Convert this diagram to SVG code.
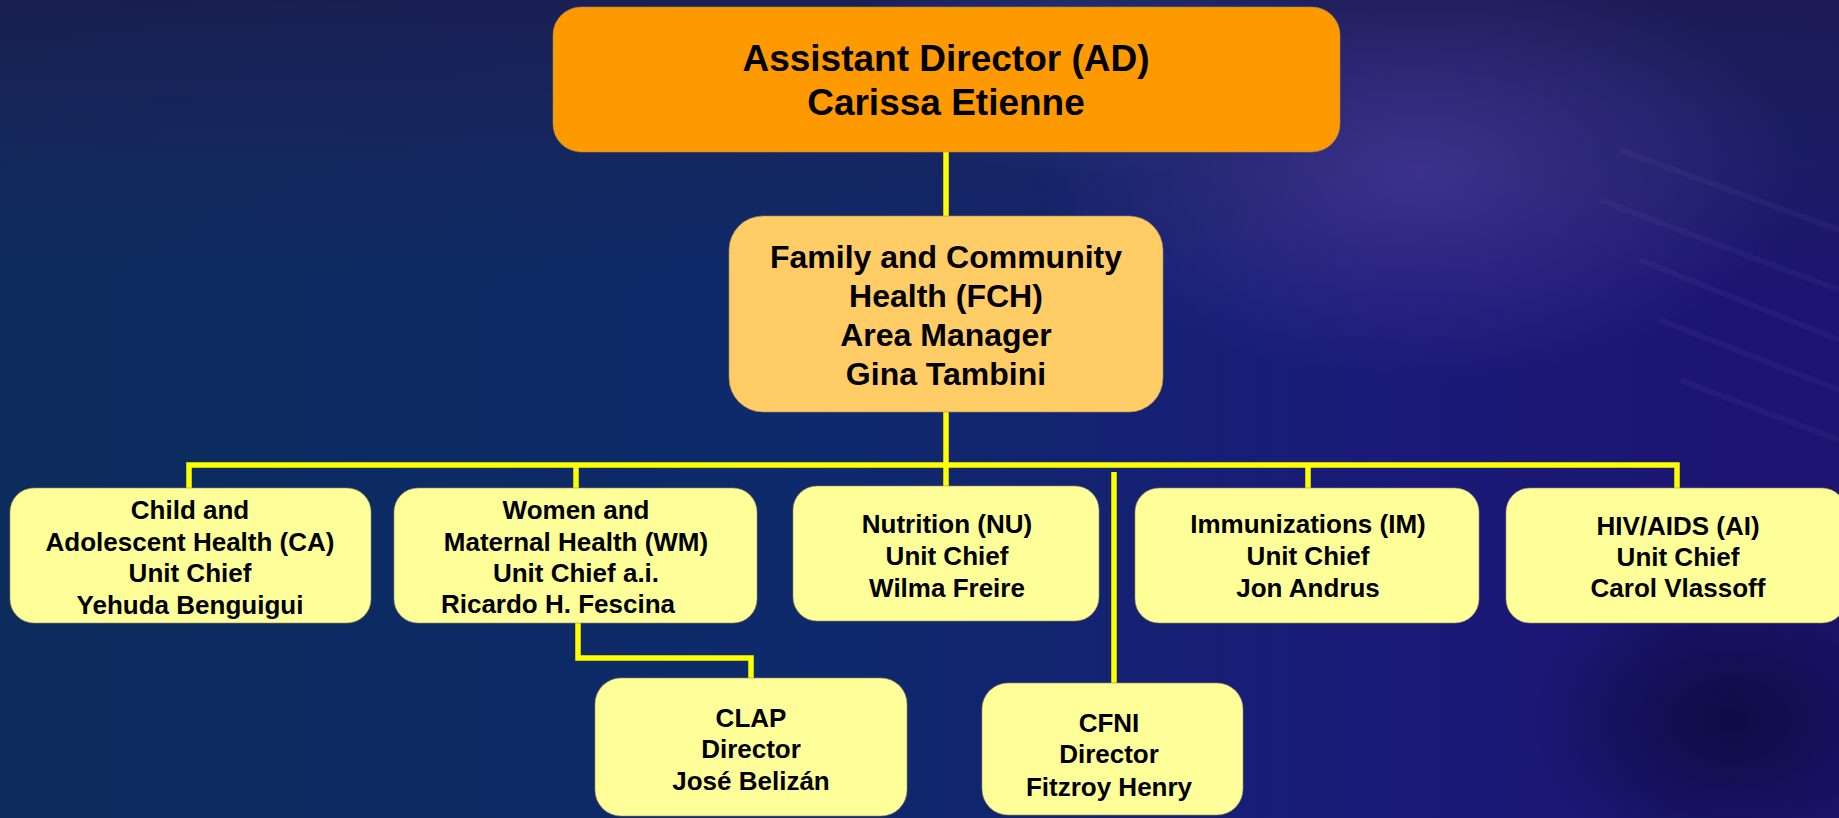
<svg xmlns="http://www.w3.org/2000/svg" width="1839" height="818" viewBox="0 0 1839 818">
<defs>
<linearGradient id="bg" x1="0" y1="0" x2="1" y2="0">
<stop offset="0" stop-color="#0c2c5c"/>
<stop offset="0.45" stop-color="#0e2a6c"/>
<stop offset="0.75" stop-color="#1a1a78"/>
<stop offset="1" stop-color="#1c1470"/>
</linearGradient>
<linearGradient id="topband" x1="0" y1="0" x2="0" y2="1">
<stop offset="0" stop-color="#1c1c50" stop-opacity="0.85"/>
<stop offset="0.2" stop-color="#1a2458" stop-opacity="0.5"/>
<stop offset="0.35" stop-color="#1a2458" stop-opacity="0"/>
</linearGradient>
<radialGradient id="glow1" cx="0.5" cy="0.5" r="0.5">
<stop offset="0" stop-color="#4a3a9a" stop-opacity="0.7"/>
<stop offset="1" stop-color="#4a3a9a" stop-opacity="0"/>
</radialGradient>
<radialGradient id="glow2" cx="0.5" cy="0.5" r="0.5">
<stop offset="0" stop-color="#2e4a9a" stop-opacity="0.6"/>
<stop offset="1" stop-color="#2e4a9a" stop-opacity="0"/>
</radialGradient>
<radialGradient id="dark" cx="0.5" cy="0.5" r="0.5">
<stop offset="0" stop-color="#080830" stop-opacity="0.7"/>
<stop offset="1" stop-color="#080830" stop-opacity="0"/>
</radialGradient>
<style>
.box{stroke:#9c8a5a;stroke-width:1;stroke-opacity:0.6}
.unit{fill:#FFFF99}
.t{font-family:"Liberation Sans",Arial,sans-serif;font-weight:bold;fill:#000;text-anchor:middle}
.t37{font-size:37px}
.t32{font-size:32px}
.t26{font-size:26px}
.c{fill:none;stroke:#FFFF00;stroke-width:5.5}
</style>
</defs>
<rect width="1839" height="818" fill="url(#bg)"/>
<rect width="1839" height="818" fill="url(#topband)"/>
<ellipse cx="1420" cy="170" rx="380" ry="210" fill="url(#glow1)"/>
<ellipse cx="1080" cy="60" rx="260" ry="120" fill="url(#glow2)"/>
<ellipse cx="1730" cy="720" rx="200" ry="150" fill="url(#dark)"/>
<g opacity="0.07" stroke="#8a7ad0" stroke-width="6" fill="none">
<path d="M1620 150 L1839 230 M1600 200 L1839 290 M1640 260 L1839 340 M1660 320 L1839 390 M1680 380 L1839 440"/>
</g>

<g id="connectors">
<path class="c" d="M946 152 V216"/>
<path class="c" d="M946 412 V486"/>
<path class="c" d="M189 488 V465 H1677 V488"/>
<path class="c" d="M576 465 V488"/>
<path class="c" d="M1308 465 V488"/>
<path class="c" d="M578 623 V658 H751 V678"/>
<path class="c" d="M1114 472 V683"/>
</g>

<g id="node-ad">
<rect class="box" x="553" y="7" width="787" height="145" rx="28" fill="#FF9900"/>
<text class="t t37" x="946" y="71">Assistant Director (AD)</text>
<text class="t t37" x="946" y="115">Carissa Etienne</text>
</g>

<g id="node-fch">
<rect class="box" x="729" y="216" width="434" height="196" rx="34" fill="#FFCC66"/>
<text class="t t32" x="946" y="268">Family and Community</text>
<text class="t t32" x="946" y="307">Health (FCH)</text>
<text class="t t32" x="946" y="346">Area Manager</text>
<text class="t t32" x="946" y="385">Gina Tambini</text>
</g>

<g id="node-ca">
<rect class="box unit" x="10" y="488" width="361" height="135" rx="24"/>
<text class="t t26" x="190" y="519">Child and</text>
<text class="t t26" x="190" y="551">Adolescent Health (CA)</text>
<text class="t t26" x="190" y="582">Unit Chief</text>
<text class="t t26" x="190" y="614">Yehuda Benguigui</text>
</g>

<g id="node-wm">
<rect class="box unit" x="394" y="488" width="363" height="135" rx="24"/>
<text class="t t26" x="576" y="519">Women and</text>
<text class="t t26" x="576" y="551">Maternal Health (WM)</text>
<text class="t t26" x="576" y="582">Unit Chief a.i.</text>
<text class="t t26" x="558" y="613">Ricardo H. Fescina</text>
</g>

<g id="node-nu">
<rect class="box unit" x="793" y="486" width="306" height="135" rx="24"/>
<text class="t t26" x="947" y="533">Nutrition (NU)</text>
<text class="t t26" x="947" y="565">Unit Chief</text>
<text class="t t26" x="947" y="597">Wilma Freire</text>
</g>

<g id="node-im">
<rect class="box unit" x="1135" y="488" width="344" height="135" rx="24"/>
<text class="t t26" x="1308" y="533">Immunizations (IM)</text>
<text class="t t26" x="1308" y="565">Unit Chief</text>
<text class="t t26" x="1308" y="597">Jon Andrus</text>
</g>

<g id="node-ai">
<rect class="box unit" x="1506" y="488" width="340" height="135" rx="24"/>
<text class="t t26" x="1678" y="535">HIV/AIDS (AI)</text>
<text class="t t26" x="1678" y="566">Unit Chief</text>
<text class="t t26" x="1678" y="597">Carol Vlassoff</text>
</g>

<g id="node-clap">
<rect class="box unit" x="595" y="678" width="312" height="138" rx="26"/>
<text class="t t26" x="751" y="727">CLAP</text>
<text class="t t26" x="751" y="758">Director</text>
<text class="t t26" x="751" y="790">José Belizán</text>
</g>

<g id="node-cfni">
<rect class="box unit" x="982" y="683" width="261" height="132" rx="26"/>
<text class="t t26" x="1109" y="732">CFNI</text>
<text class="t t26" x="1109" y="763">Director</text>
<text class="t t26" x="1109" y="796">Fitzroy Henry</text>
</g>
</svg>
